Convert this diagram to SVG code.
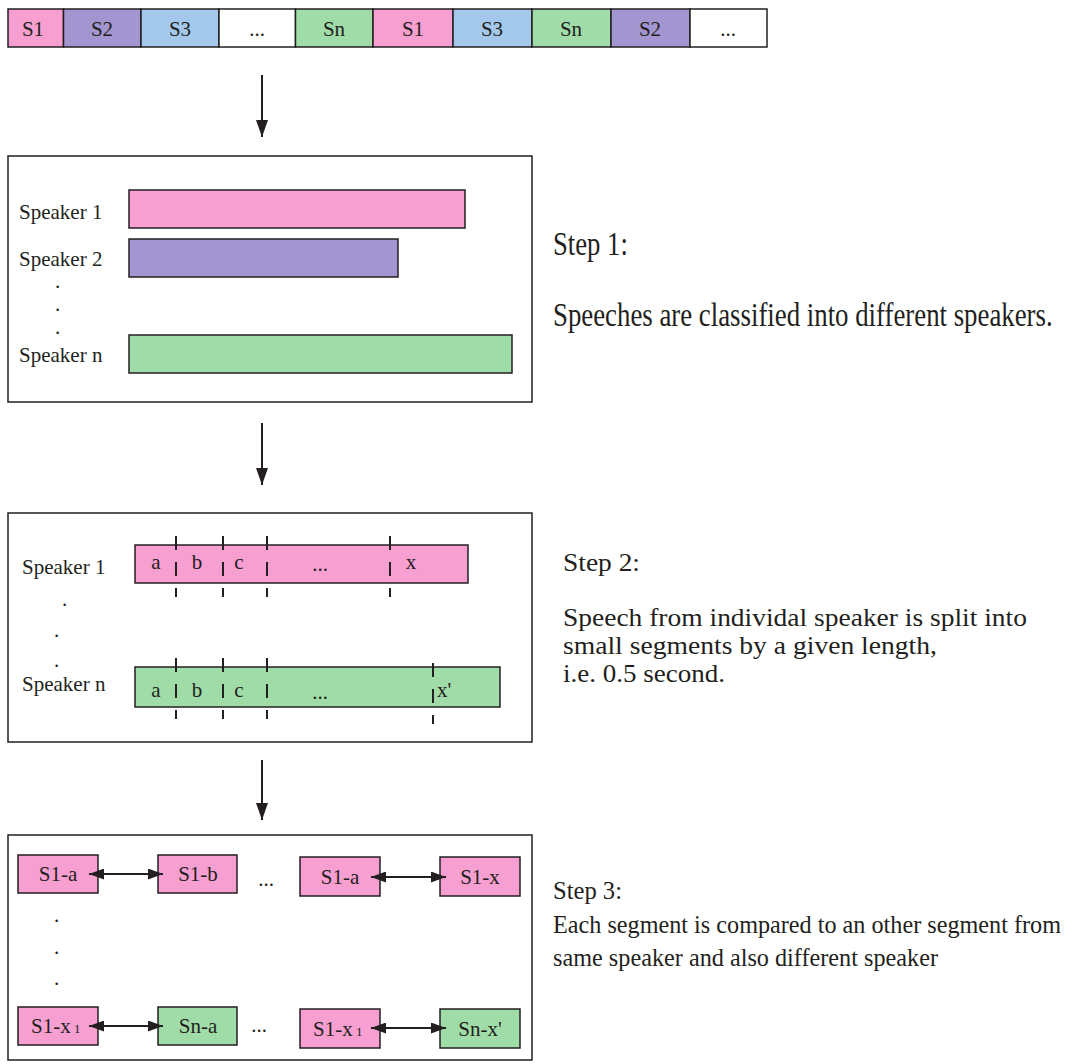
<svg xmlns="http://www.w3.org/2000/svg" width="1078" height="1064" viewBox="0 0 1078 1064">
<defs>
<style>
.frame{fill:#fff;stroke:#231F20;stroke-width:1.5}
.cell{stroke:#231F20;stroke-width:1.5}
.pink{fill:#F79FD0}
.purple{fill:#A295D0}
.blue{fill:#A3C8EC}
.green{fill:#A0DCA8}
.white{fill:#fff}
text{font-family:"Liberation Serif","Times New Roman",serif;fill:#231F20}
.lbl{font-size:21px}
.mid{text-anchor:middle}
.step{font-size:34px}
.desc{font-size:25px}
.tick{stroke:#231F20;stroke-width:2;stroke-dasharray:14 12}
.conn{stroke:#231F20;stroke-width:2;fill:none}
</style>
<marker id="ah" markerWidth="17" markerHeight="12" refX="17" refY="6" orient="auto" markerUnits="userSpaceOnUse"><path d="M0,0 L17,6 L0,12 z" fill="#231F20"/></marker>
<marker id="dh" markerWidth="15" markerHeight="11" refX="15" refY="5.5" orient="auto-start-reverse" markerUnits="userSpaceOnUse"><path d="M0,0 L15,5.5 L0,11 z" fill="#231F20"/></marker>
</defs>
<rect width="1078" height="1064" fill="#fff"/>

<g id="strip">
<rect class="cell pink" x="8" y="9" width="55.5" height="38"/>
<rect class="cell purple" x="63.5" y="9" width="77.5" height="38"/>
<rect class="cell blue" x="141" y="9" width="78" height="38"/>
<rect class="cell white" x="219" y="9" width="76.5" height="38"/>
<rect class="cell green" x="295.5" y="9" width="77.5" height="38"/>
<rect class="cell pink" x="373" y="9" width="80" height="38"/>
<rect class="cell blue" x="453" y="9" width="79" height="38"/>
<rect class="cell green" x="532" y="9" width="79" height="38"/>
<rect class="cell purple" x="611" y="9" width="79" height="38"/>
<rect class="cell white" x="690" y="9" width="77" height="38"/>
<text class="lbl mid" x="33" y="36">S1</text>
<text class="lbl mid" x="102" y="36">S2</text>
<text class="lbl mid" x="180" y="36">S3</text>
<text class="lbl mid" x="257" y="36">...</text>
<text class="lbl mid" x="334" y="36">Sn</text>
<text class="lbl mid" x="413" y="36">S1</text>
<text class="lbl mid" x="492" y="36">S3</text>
<text class="lbl mid" x="571" y="36">Sn</text>
<text class="lbl mid" x="650" y="36">S2</text>
<text class="lbl mid" x="728" y="36">...</text>
</g>

<g id="step1">
<rect class="frame" x="8" y="156" width="524" height="246"/>
<rect class="cell pink" x="129" y="190" width="336" height="38"/>
<rect class="cell purple" x="129" y="239" width="269" height="38"/>
<rect class="cell green" x="129" y="335" width="383" height="38"/>
<text class="lbl" x="19" y="219">Speaker 1</text>
<text class="lbl" x="19" y="266">Speaker 2</text>
<text class="lbl" x="19" y="362">Speaker n</text>
<text class="lbl" x="55" y="288">.</text>
<text class="lbl" x="55" y="311">.</text>
<text class="lbl" x="55" y="334">.</text>
</g>

<g id="step1-text">
<text class="step" transform="translate(553,255) scale(0.72,1)" x="0" y="0" textLength="104" lengthAdjust="spacingAndGlyphs">Step 1:</text>
<text class="step" transform="translate(553,326) scale(0.72,1)" x="0" y="0" textLength="694" lengthAdjust="spacingAndGlyphs">Speeches are classified into different speakers.</text>
</g>

<g id="step2">
<rect class="frame" x="8" y="513" width="524" height="229"/>
<rect class="cell pink" x="135" y="545" width="333" height="38"/>
<rect class="cell green" x="135" y="667" width="365" height="40"/>
<line class="tick" x1="176" y1="536" x2="176" y2="597"/>
<line class="tick" x1="223" y1="536" x2="223" y2="597"/>
<line class="tick" x1="267" y1="536" x2="267" y2="597"/>
<line class="tick" x1="390" y1="536" x2="390" y2="597"/>
<line class="tick" x1="176" y1="658" x2="176" y2="719"/>
<line class="tick" x1="223" y1="658" x2="223" y2="719"/>
<line class="tick" x1="267" y1="658" x2="267" y2="719"/>
<line class="tick" x1="433" y1="663" x2="433" y2="724"/>
<text class="lbl" x="22" y="574">Speaker 1</text>
<text class="lbl" x="22" y="691">Speaker n</text>
<text class="lbl" x="62" y="606">.</text>
<text class="lbl" x="54" y="637">.</text>
<text class="lbl" x="54" y="667">.</text>
<text class="lbl mid" x="156" y="569">a</text>
<text class="lbl mid" x="197" y="569">b</text>
<text class="lbl mid" x="239" y="569">c</text>
<text class="lbl mid" x="320" y="571">...</text>
<text class="lbl mid" x="411" y="569">x</text>
<text class="lbl mid" x="156" y="697">a</text>
<text class="lbl mid" x="197" y="697">b</text>
<text class="lbl mid" x="239" y="697">c</text>
<text class="lbl mid" x="320" y="699">...</text>
<text class="lbl" x="437" y="697">x'</text>
</g>

<g id="step2-text">
<text class="desc" x="563" y="571" textLength="77" lengthAdjust="spacingAndGlyphs">Step 2:</text>
<text class="desc" x="563" y="626" textLength="464" lengthAdjust="spacingAndGlyphs">Speech from individal speaker is split into</text>
<text class="desc" x="563" y="654" textLength="374" lengthAdjust="spacingAndGlyphs">small segments by a given length,</text>
<text class="desc" x="563" y="682" textLength="162" lengthAdjust="spacingAndGlyphs">i.e. 0.5 second.</text>
</g>

<g id="step3">
<rect class="frame" x="8" y="835" width="524" height="225"/>
<text class="lbl" x="54" y="922">.</text>
<text class="lbl" x="54" y="954">.</text>
<text class="lbl" x="54" y="985">.</text>
<text class="lbl mid" x="266" y="886">...</text>
<text class="lbl mid" x="259" y="1032">...</text>
</g>
<g id="n-s1a"><rect class="cell pink" x="18" y="855" width="80" height="38"/><text class="lbl mid" x="58" y="881">S1-a</text></g>
<g id="n-s1b"><rect class="cell pink" x="158" y="855" width="79" height="38"/><text class="lbl mid" x="198" y="881">S1-b</text></g>
<g id="n-s1a2"><rect class="cell pink" x="300" y="857" width="80" height="39"/><text class="lbl mid" x="340" y="884">S1-a</text></g>
<g id="n-s1x"><rect class="cell pink" x="440" y="857" width="80" height="39"/><text class="lbl mid" x="480" y="884">S1-x</text></g>
<g id="n-s1x1"><rect class="cell pink" x="18" y="1007" width="80" height="38"/><text class="lbl" x="31" y="1033">S1-x<tspan font-size="13"> 1</tspan></text></g>
<g id="n-sna"><rect class="cell green" x="158" y="1007" width="79" height="38"/><text class="lbl mid" x="198" y="1033">Sn-a</text></g>
<g id="n-s1x12"><rect class="cell pink" x="300" y="1009" width="80" height="39"/><text class="lbl" x="313" y="1036">S1-x<tspan font-size="13"> 1</tspan></text></g>
<g id="n-snx"><rect class="cell green" x="440" y="1009" width="80" height="39"/><text class="lbl mid" x="480" y="1036">Sn-x'</text></g>

<g id="step3-text">
<text class="desc" x="553" y="899" textLength="69" lengthAdjust="spacingAndGlyphs">Step 3:</text>
<text class="desc" x="553" y="933" textLength="508" lengthAdjust="spacingAndGlyphs">Each segment is compared to an other segment from</text>
<text class="desc" x="553" y="966" textLength="385" lengthAdjust="spacingAndGlyphs">same speaker and also different speaker</text>
</g>

<g id="connectors">
<line class="conn" x1="262" y1="75" x2="262" y2="137" marker-end="url(#ah)"/>
<line class="conn" x1="262" y1="423" x2="262" y2="485" marker-end="url(#ah)"/>
<line class="conn" x1="262" y1="760" x2="262" y2="820" marker-end="url(#ah)"/>
<line class="conn" x1="89" y1="874" x2="163" y2="874" marker-start="url(#dh)" marker-end="url(#dh)"/>
<line class="conn" x1="371" y1="877" x2="446" y2="877" marker-start="url(#dh)" marker-end="url(#dh)"/>
<line class="conn" x1="89" y1="1026" x2="163" y2="1026" marker-start="url(#dh)" marker-end="url(#dh)"/>
<line class="conn" x1="371" y1="1028" x2="446" y2="1028" marker-start="url(#dh)" marker-end="url(#dh)"/>
</g>
</svg>
